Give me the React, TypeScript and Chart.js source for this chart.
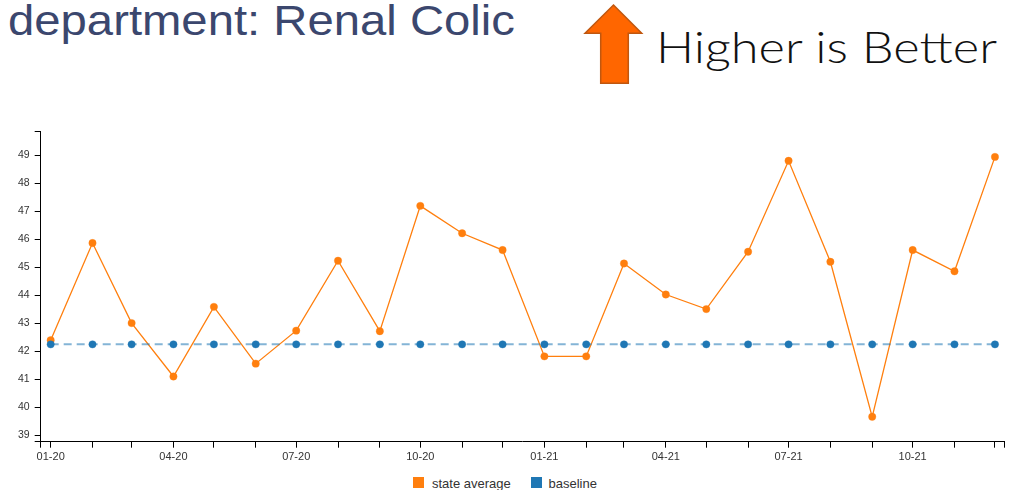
import React, { useEffect, useRef } from "react";
import { Chart, registerables } from "chart.js";

Chart.register(...registerables);

// ---- data ----
const MONTHS = [
  "2020-01", "2020-02", "2020-03", "2020-04", "2020-05", "2020-06",
  "2020-07", "2020-08", "2020-09", "2020-10", "2020-11", "2020-12",
  "2021-01", "2021-02", "2021-03", "2021-04", "2021-05", "2021-06",
  "2021-07", "2021-08", "2021-09", "2021-10", "2021-11", "2021-12",
];
const STATE_AVERAGE = [
  42.4, 45.87, 43.01, 41.1, 43.59, 41.56,
  42.74, 45.24, 42.72, 47.2, 46.22, 45.62,
  41.82, 41.82, 45.14, 44.03, 43.51, 45.56,
  48.81, 45.2, 39.66, 45.62, 44.86, 48.95,
];
const BASELINE = [
  42.25, 42.25, 42.25, 42.25, 42.25, 42.25,
  42.25, 42.25, 42.25, 42.25, 42.25, 42.25,
  42.25, 42.25, 42.25, 42.25, 42.25, 42.25,
  42.25, 42.25, 42.25, 42.25, 42.25, 42.25,
];
const LABELED_MONTHS = [
  "2020-01", "2020-04", "2020-07", "2020-10",
  "2021-01", "2021-04", "2021-07", "2021-10",
];
const Y_TICKS = [39, 40, 41, 42, 43, 44, 45, 46, 47, 48, 49];
const Y_MIN = 38.77;
const Y_MAX = 49.865;
const SERIES_NAMES = ["state average", "baseline"];
const SERIES_COLORS = ["#ff7f0e", "#1f77b4"];
const TITLE = "department: Renal Colic";
const DIRECTION_TEXT = "Higher is Better";

const DAY = 86400000;
const toTs = (m: string) => Date.UTC(+m.slice(0, 4), +m.slice(5, 7) - 1, 1);
const fmt = (m: string) => m.slice(5, 7) + "-" + m.slice(2, 4);

function LineChart() {
  const ref = useRef<HTMLCanvasElement | null>(null);
  useEffect(() => {
    if (!ref.current) return;
    const xs = MONTHS.map(toTs);
    const xMin = xs[0] - 7.4 * DAY;
    const xMax = xs[xs.length - 1] + 6.7 * DAY;
    const labelMap = new Map<number, string>();
    LABELED_MONTHS.forEach((m) => labelMap.set(toTs(m), fmt(m)));

    const chart = new Chart(ref.current, {
      type: "line",
      data: {
        datasets: [
          {
            label: SERIES_NAMES[0],
            data: MONTHS.map((m, i) => ({ x: xs[i], y: STATE_AVERAGE[i] })),
            borderColor: SERIES_COLORS[0],
            backgroundColor: SERIES_COLORS[0],
            borderWidth: 1.3,
            pointRadius: 3.7,
            pointBackgroundColor: SERIES_COLORS[0],
            pointBorderColor: "rgba(255,127,14,0.35)",
            pointBorderWidth: 1,
            tension: 0,
            order: 1,
          },
          {
            label: SERIES_NAMES[1],
            data: MONTHS.map((m, i) => ({ x: xs[i], y: BASELINE[i] })),
            borderColor: "rgba(31,119,180,0.55)",
            backgroundColor: SERIES_COLORS[1],
            borderWidth: 2,
            borderDash: [8, 5],
            pointRadius: 3.7,
            pointBackgroundColor: SERIES_COLORS[1],
            pointBorderColor: "rgba(31,119,180,0.35)",
            pointBorderWidth: 1,
            tension: 0,
            order: 0,
          },
        ],
      },
      options: {
        responsive: false,
        animation: false,
        layout: { padding: { top: 10, right: 18, left: 0, bottom: 0 } },
        plugins: {
          legend: { display: false },
          tooltip: { enabled: false },
        },
        scales: {
          x: {
            type: "linear",
            min: xMin,
            max: xMax,
            afterBuildTicks: (scale: any) => {
              scale.ticks = [xMin, ...xs, xMax].map((v) => ({ value: v }));
            },
            afterFit: (scale: any) => {
              scale.height = 28.3;
            },
            grid: {
              display: true,
              drawOnChartArea: false,
              drawTicks: true,
              tickLength: 6,
              color: "#000",
              lineWidth: 1,
            },
            border: { display: true, color: "#000", width: 1 },
            ticks: {
              autoSkip: false,
              maxRotation: 0,
              minRotation: 0,
              padding: 3,
              color: "#333",
              font: { family: "'Liberation Sans', Arial, sans-serif", size: 11 },
              callback: (value: any) => labelMap.get(Number(value)) ?? "",
            },
          },
          y: {
            type: "linear",
            min: Y_MIN,
            max: Y_MAX,
            afterBuildTicks: (scale: any) => {
              scale.ticks = [Y_MIN, ...Y_TICKS, Y_MAX].map((v) => ({ value: v }));
            },
            afterFit: (scale: any) => {
              scale.width = 40.7;
            },
            grid: {
              display: true,
              drawOnChartArea: false,
              drawTicks: true,
              tickLength: 6,
              color: "#000",
              lineWidth: 1,
            },
            border: { display: true, color: "#000", width: 1 },
            ticks: {
              autoSkip: false,
              padding: 5,
              color: "#333",
              font: { family: "'Liberation Sans', Arial, sans-serif", size: 10.5 },
              callback: (value: any) =>
                Y_TICKS.includes(Number(value)) ? String(value) : "",
            },
          },
        },
      },
    } as any);
    return () => chart.destroy();
  }, []);
  return <canvas ref={ref} width={1022} height={350} style={{ display: "block" }} />;
}

export default function App() {
  const legendFont = "'Liberation Sans', Arial, sans-serif";
  const legendText = {
    position: "absolute" as const,
    top: 476.5,
    fontFamily: legendFont,
    fontSize: 13,
    lineHeight: "13px",
    color: "#333",
    whiteSpace: "nowrap" as const,
  };
  return (
    <div
      style={{
        position: "absolute",
        left: 0,
        top: 0,
        width: 1022,
        height: 490,
        background: "#fff",
        overflow: "hidden",
      }}
    >
      <svg
        width={1022}
        height={100}
        style={{ position: "absolute", left: 0, top: 0 }}
      >
        <text
          x={8}
          y={34.5}
          fontFamily="'Liberation Sans', Arial, sans-serif"
          fontSize={42}
          fill="#3b476e"
          textLength={507}
          lengthAdjust="spacingAndGlyphs"
        >
          {TITLE}
        </text>
        <polygon
          points="613.5,5 641.7,33.3 628.3,33.3 628.3,83.3 600.7,83.3 600.7,33.3 585,33.3"
          fill="#ff6600"
          stroke="#c0570f"
          strokeWidth={1.5}
          strokeLinejoin="miter"
        />
        <text
          x={656}
          y={63.3}
          fontFamily="Lato, 'Open Sans', sans-serif"
          fontWeight={300}
          fontSize={44}
          fill="#111"
          textLength={341}
          lengthAdjust="spacingAndGlyphs"
        >
          {DIRECTION_TEXT}
        </text>
      </svg>
      <div style={{ position: "absolute", left: 0, top: 120, width: 1022, height: 350 }}>
        <LineChart />
      </div>
      <div style={{ position: "absolute", left: 413.3, top: 477.3, width: 11, height: 11, background: SERIES_COLORS[0] }} />
      <div style={{ ...legendText, left: 432 }}>{SERIES_NAMES[0]}</div>
      <div style={{ position: "absolute", left: 531, top: 477.3, width: 11, height: 11, background: SERIES_COLORS[1] }} />
      <div style={{ ...legendText, left: 548.5 }}>{SERIES_NAMES[1]}</div>
    </div>
  );
}
